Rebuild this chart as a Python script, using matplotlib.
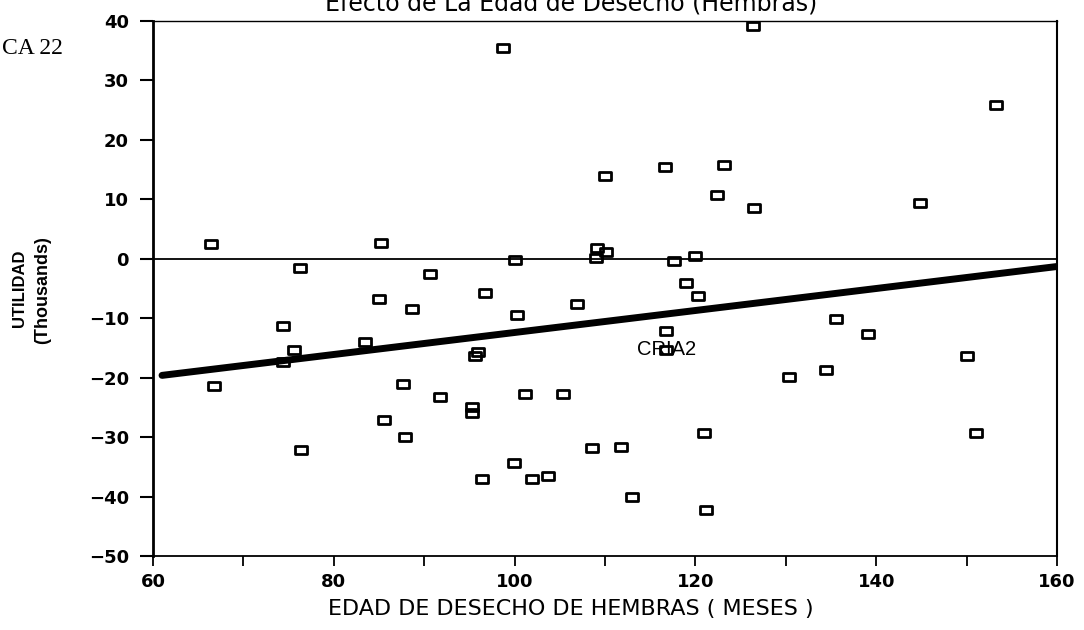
import matplotlib
matplotlib.use("Agg")
import matplotlib.pyplot as plt
from matplotlib.path import Path
from matplotlib.ticker import MultipleLocator

# Edad de desecho (meses) y utilidad (miles) por hembra
edad = [98.7, 126.4, 110.0, 153.2, 116.6, 123.2, 122.4, 126.5, 144.8, 66.4,
        85.2, 76.3, 90.6, 100.0, 109.1, 109.0, 110.1, 117.6, 120.0, 119.0,
        120.3, 85.0, 88.6, 96.7, 100.3, 106.9, 74.4, 75.6, 74.4, 83.4,
        96.0, 95.6, 66.7, 87.6, 91.7, 95.3, 95.3, 101.1, 105.3, 85.6,
        87.9, 76.4, 108.6, 99.9, 96.4, 101.9, 103.7, 116.7, 116.8, 135.5,
        139.1, 150.0, 130.4, 134.4, 121.0, 111.8, 151.0, 113.0, 121.2]
utilidad = [35.4, 39.1, 14.0, 25.8, 15.5, 15.7, 10.7, 8.6, 9.3, 2.5,
            2.7, -1.5, -2.5, -0.2, 1.8, 0.2, 1.1, -0.45, 0.55, -4.0,
            -6.2, -6.7, -8.4, -5.8, -9.4, -7.6, -11.3, -15.4, -17.4, -14.0,
            -15.6, -16.3, -21.4, -21.0, -23.3, -25.0, -26.0, -22.8, -22.8, -27.2,
            -29.9, -32.1, -31.8, -34.3, -37.0, -37.0, -36.6, -12.1, -15.3, -10.2,
            -12.7, -16.3, -19.9, -18.7, -29.3, -31.7, -29.3, -40.0, -42.3]

# Recta de regresion: utilidad = intercepto + pendiente * edad
intercepto = -30.9
pendiente = 0.185
rango_recta = [61, 160]

x_ticks = [60, 80, 100, 120, 140, 160]
y_ticks = [-50, -40, -30, -20, -10, 0, 10, 20, 30, 40]

titulo = "Efecto de La Edad de Desecho (Hembras)"
etiqueta_x = "EDAD DE DESECHO DE HEMBRAS ( MESES )"
etiqueta_y1 = "UTILIDAD"
etiqueta_y2 = "(Thousands)"
nota = "CA 22"
rotulo = "CRIA2"
rotulo_pos = (116.8, -15.3)

W, H = 1084, 630
fig = plt.figure(figsize=(W / 100, H / 100), dpi=100)
fig.patch.set_facecolor("white")
ax = fig.add_axes([153 / W, 1 - 556 / H, 904 / W, 535 / H])

# Cuadro hueco ligeramente apaisado
caja = Path([(-1, -0.8), (1, -0.8), (1, 0.8), (-1, 0.8), (-1, -0.8)],
            [Path.MOVETO, Path.LINETO, Path.LINETO, Path.LINETO, Path.CLOSEPOLY])

ax.axhline(0, color="black", lw=1.3, zorder=2)
ax.plot(edad, utilidad, linestyle="none", marker=caja, markersize=8.0,
        markerfacecolor="none", markeredgecolor="black", markeredgewidth=2.0,
        zorder=3)
rx = rango_recta
ry = [intercepto + pendiente * v for v in rx]
ax.plot(rx, ry, color="black", lw=5.0, solid_capstyle="round", zorder=4)

ax.text(rotulo_pos[0], rotulo_pos[1], rotulo, ha="center", va="center",
        fontsize=14.5, family="Liberation Sans", color="black", zorder=5)

ax.set_xlim(60, 160)
ax.set_ylim(-50, 40)
ax.set_xticks(x_ticks)
ax.xaxis.set_minor_locator(MultipleLocator(10))
ax.set_yticks(y_ticks)

tick_font = dict(fontsize=13, fontweight="bold", family="DejaVu Sans")
ax.set_xticklabels([str(v) for v in x_ticks], **tick_font)
ax.set_yticklabels([f"{v:d}".replace("-", "\u2212") for v in y_ticks], **tick_font)

ax.tick_params(axis="x", which="both", direction="out", length=7, width=1.3,
               pad=5, colors="black")
ax.tick_params(axis="y", which="major", direction="out", length=9.4, width=1.5,
               pad=8, colors="black")

ax.spines["left"].set_linewidth(2.0)
ax.spines["bottom"].set_linewidth(1.3)
ax.spines["top"].set_linewidth(1.0)
ax.spines["right"].set_linewidth(1.5)

# Textos de la figura
fig.text(571 / W, 1 - 10 / H, titulo, ha="center", va="baseline",
         fontsize=17, family="DejaVu Sans")
fig.text(571 / W, 1 - 609 / H, etiqueta_x, ha="center", va="center",
         fontsize=16, family="DejaVu Sans")
fig.text(20 / W, 1 - 288 / H, etiqueta_y1, ha="center", va="center",
         rotation=90, fontsize=12, fontweight="bold", family="Liberation Sans")
fig.text(43 / W, 1 - 290 / H, etiqueta_y2, ha="center", va="center",
         rotation=90, fontsize=13, fontweight="bold", family="Liberation Sans")
fig.text(2 / W, 1 - 48 / H, nota, ha="left", va="center",
         fontsize=17, family="Liberation Serif")

fig.savefig("out.png", dpi=100, facecolor="white")
